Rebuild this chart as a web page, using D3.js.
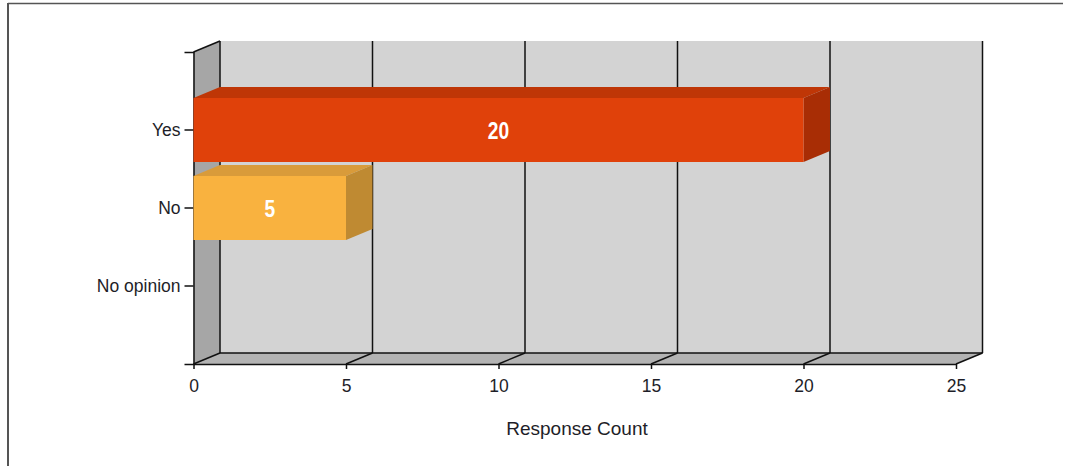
<!DOCTYPE html>
<html>
<head>
<meta charset="utf-8">
<script src="https://cdn.jsdelivr.net/npm/d3@7"></script>
<style>
  html, body { margin: 0; padding: 0; background: #fff; }
  svg { display: block; }
  text { font-family: "Liberation Sans", Arial, sans-serif; }
</style>
</head>
<body>
<svg id="chart" width="1067" height="466"></svg>
<script>
// ---- data ----
const categories = ["Yes", "No", "No opinion"];
const values = [20, 5, 0];
const xTicks = [0, 5, 10, 15, 20, 25];
const axisTitle = "Response Count";
const frontColors = ["#e0410a", "#f9b23f", "#f9b23f"];
const topColors = ["#bf3606", "#d99b3a", "#d99b3a"];
const sideColors = ["#a82d05", "#bf8a32", "#bf8a32"];

// ---- layout ----
const svg = d3.select("#chart");
const W = 1067, H = 466;
const pL = 193.5, pR = 956, pT = 52, pB = 364;
const dx = 26.5, dy = -11; // depth offset

const x = d3.scaleLinear().domain([0, 25]).range([pL, pR]);
const y = d3.scaleBand().domain(categories).range([pT, pB]).paddingInner(0).paddingOuter(0.5);
const barH = 64;

// frame
svg.append("line").attr("x1", 8).attr("x2", 1063).attr("y1", 3.5).attr("y2", 3.5)
  .attr("stroke", "#555").attr("stroke-width", 1.5);
svg.append("line").attr("x1", 8).attr("x2", 8).attr("y1", 3).attr("y2", H)
  .attr("stroke", "#555").attr("stroke-width", 2);

const poly = pts => pts.map(p => p.join(",")).join(" ");

// back wall
svg.append("polygon")
  .attr("points", poly([[pL + dx, pT + dy], [pR + dx, pT + dy], [pR + dx, pB + dy], [pL + dx, pB + dy]]))
  .attr("fill", "#d3d3d3");
// left wall
svg.append("polygon")
  .attr("points", poly([[pL, pT], [pL + dx, pT + dy], [pL + dx, pB + dy], [pL, pB]]))
  .attr("fill", "#a6a6a6");
// floor
svg.append("polygon")
  .attr("points", poly([[pL, pB], [pL + dx, pB + dy], [pR + dx, pB + dy], [pR, pB]]))
  .attr("fill", "#b3b3b3");

const grid = svg.append("g").attr("stroke", "#111").attr("stroke-width", 1.5).attr("fill", "none");
// vertical gridlines on back wall
grid.selectAll("line.v").data(xTicks).join("line").attr("class", "v")
  .attr("x1", d => x(d) + dx).attr("x2", d => x(d) + dx)
  .attr("y1", pT + dy).attr("y2", pB + dy);
// diagonal lines on floor
grid.selectAll("line.d").data(xTicks).join("line").attr("class", "d")
  .attr("x1", d => x(d)).attr("x2", d => x(d) + dx)
  .attr("y1", pB).attr("y2", pB + dy);
// floor back edge
grid.append("line").attr("x1", pL + dx).attr("x2", pR + dx).attr("y1", pB + dy).attr("y2", pB + dy);
// left wall top edge
grid.append("line").attr("x1", pL).attr("x2", pL + dx).attr("y1", pT).attr("y2", pT + dy);

// x axis
const xAxis = svg.append("g").attr("transform", `translate(0,${pB})`)
  .call(d3.axisBottom(x).tickValues(xTicks).tickSize(5).tickSizeOuter(0).tickPadding(11).tickFormat(d3.format("d")));
xAxis.select(".domain").attr("stroke", "#111").attr("stroke-width", 1.5);
xAxis.selectAll(".tick line").attr("stroke", "#111").attr("stroke-width", 1.5);
xAxis.selectAll("text").attr("font-size", 17.5).attr("fill", "#1e1e28")
  .attr("font-family", "'Liberation Sans', Arial, sans-serif");

// y axis
const yAxis = svg.append("g").attr("transform", `translate(${pL},0)`)
  .call(d3.axisLeft(y).tickSize(9).tickSizeOuter(9).tickPadding(4));
yAxis.select(".domain").attr("stroke", "#111").attr("stroke-width", 1.5);
yAxis.selectAll(".tick line").attr("stroke", "#111").attr("stroke-width", 1.5);
yAxis.selectAll("text").attr("font-size", 17.5).attr("fill", "#1e1e28")
  .attr("font-family", "'Liberation Sans', Arial, sans-serif");

// axis title
svg.append("text").attr("x", 577).attr("y", 435)
  .attr("text-anchor", "middle").attr("font-size", 19).attr("fill", "#1e1e28")
  .text(axisTitle);

// bars
const data = categories.map((c, i) => ({ c, v: values[i], i }));
const bars = svg.append("g").selectAll("g").data(data.filter(d => d.v > 0)).join("g");
bars.each(function (d) {
  const g = d3.select(this);
  const x0 = x(0), x1 = x(d.v);
  const cy = y(d.c) + y.bandwidth() / 2;
  const y0 = cy - barH / 2, y1 = cy + barH / 2;
  g.append("polygon").attr("points", poly([[x0, y0], [x0 + dx, y0 + dy], [x1 + dx, y0 + dy], [x1, y0]]))
    .attr("fill", topColors[d.i]);
  g.append("polygon").attr("points", poly([[x1, y0], [x1 + dx, y0 + dy], [x1 + dx, y1 + dy], [x1, y1]]))
    .attr("fill", sideColors[d.i]);
  g.append("rect").attr("x", x0).attr("y", y0).attr("width", x1 - x0).attr("height", barH)
    .attr("fill", frontColors[d.i]);
  g.append("text")
    .attr("transform", `translate(${(x0 + x1) / 2},${cy}) scale(0.8,1)`)
    .attr("dy", "0.36em")
    .attr("text-anchor", "middle").attr("fill", "#fff")
    .attr("font-weight", "bold").attr("font-size", 24)
    .text(d.v);
});
</script>
</body>
</html>
